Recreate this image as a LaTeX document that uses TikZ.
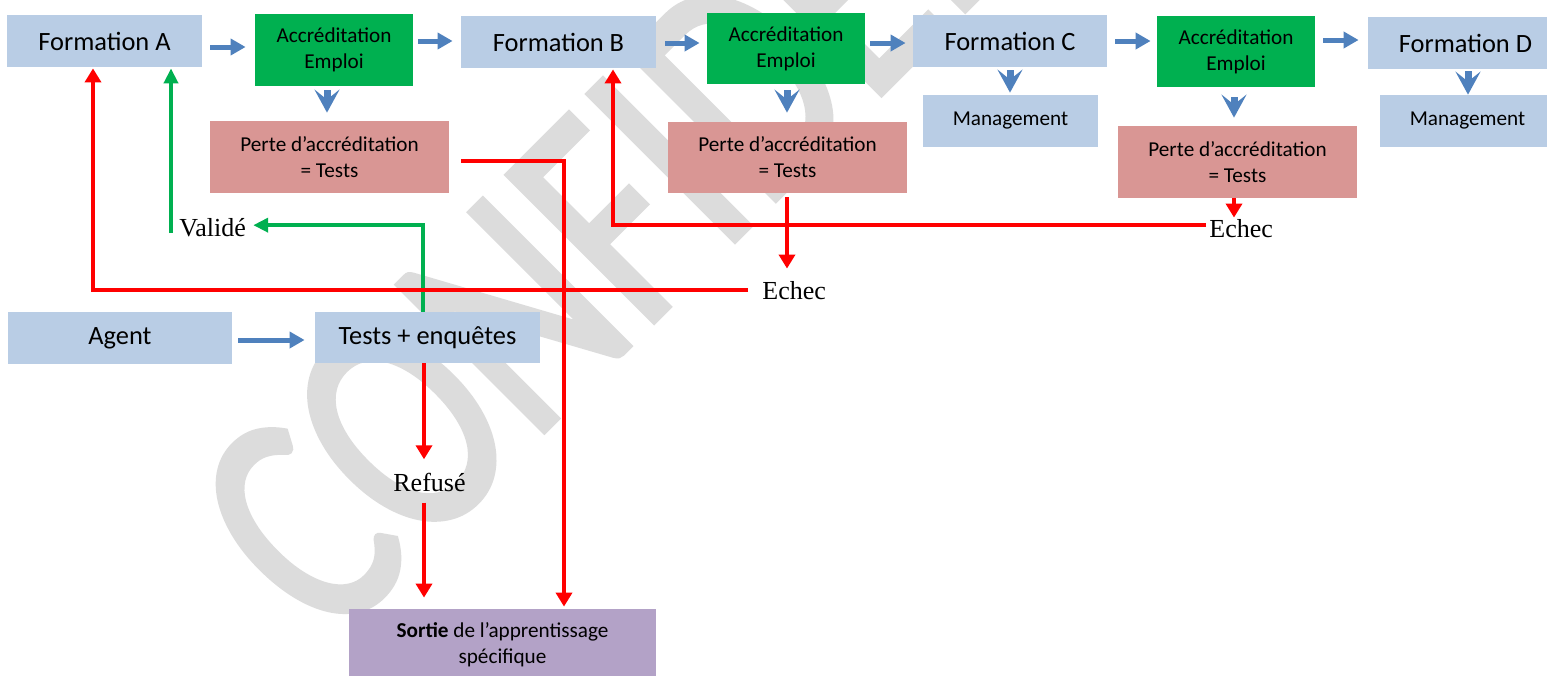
\documentclass[tikz,border=0pt]{standalone}
\usepackage{fontspec}
\setmainfont{Carlito}
\newfontfamily\tnr{Liberation Serif}
\newfontfamily\wmfont[FakeBold=2]{Carlito}
\usetikzlibrary{arrows.meta,calc}
\definecolor{lblue}{HTML}{B9CDE5}
\definecolor{accgreen}{HTML}{00B050}
\definecolor{pinkbox}{HTML}{D99694}
\definecolor{purpbox}{HTML}{B3A2C7}
\definecolor{arrblue}{HTML}{4F81BD}
\definecolor{wmgray}{HTML}{DCDCDC}
\definecolor{lred}{HTML}{FF0000}
\tikzset{
  box/.style={inner sep=0pt, align=center, text=black},
  bigbox/.style={box, fill=lblue, font=\fontsize{13.2}{16}\selectfont, minimum width=97.5pt, minimum height=26pt},
  accbox/.style={box, fill=accgreen, font=\fontsize{10.6}{13}\selectfont, minimum width=79pt, minimum height=36pt},
  pertebox/.style={box, fill=pinkbox, font=\fontsize{10.6}{13}\selectfont, minimum width=119.5pt, minimum height=36pt},
  mgmtbox/.style={box, fill=lblue, font=\fontsize{10.6}{13}\selectfont, minimum width=87.5pt, minimum height=26pt},
  sortiebox/.style={box, fill=purpbox, font=\fontsize{10.6}{13}\selectfont, minimum width=153.5pt, minimum height=36pt},
  lbl/.style={inner sep=0pt, font=\tnr\fontsize{13}{15}\selectfont, anchor=base west},
  barrow/.style={draw=arrblue, line width=2.5pt, -{Triangle[width=8pt,length=7.5pt]}},
  chev/.style={draw=arrblue, line width=3.5pt, -{Stealth[width=12.5pt,length=11.5pt,inset=5pt]}},
  rarrow/.style={draw=lred, line width=2.2pt, -{Triangle[width=8pt,length=7pt]}},
  garrow/.style={draw=accgreen, line width=2pt, -{Triangle[width=7pt,length=7.5pt]}},
  wmark/.style={inner sep=0pt, text=wmgray, font=\wmfont\fontsize{121}{121}\selectfont}
}
\begin{document}
\begin{tikzpicture}[x=0.5pt,y=-0.5pt]
\clip (0,0) rectangle (1547,675);
\fill[white] (0,0) rectangle (1547,675);
% watermark
\node[wmark, rotate=45, yscale=1.33, anchor=base west] (wm) at (328,647) {CONFIDENTIEL};
% boxes
\node[bigbox] (fa) at (104.5,41) {Formation A};
\node[accbox] (acc1) at (334,50) {Accréditation\\Emploi};
\node[bigbox] (fb) at (558.5,42) {Formation B};
\node[accbox, minimum height=35.5pt] (acc2) at (786,48.5) {Accréditation\\Emploi};
\node[bigbox, minimum width=97pt] (fc) at (1010,41) {Formation C};
\node[mgmtbox] (mc) at (1010.5,121) {Management};
\node[accbox, minimum height=35.5pt] (acc3) at (1236,51.5) {Accréditation\\Emploi};
\node[bigbox] (fd) at (1465.5,43) {Formation D};
\node[mgmtbox] (md) at (1467.5,121) {Management};
\node[pertebox] (p1) at (329.5,157) {Perte d’accréditation\\= Tests};
\node[pertebox, minimum height=35.5pt] (p2) at (787.5,157.5) {Perte d’accréditation\\= Tests};
\node[pertebox] (p3) at (1237.5,162) {Perte d’accréditation\\= Tests};
\node[bigbox, minimum width=112pt] (agent) at (120,338) {Agent};
\node[bigbox, minimum width=112.5pt, minimum height=25.5pt] (tests) at (427.5,337.5) {Tests + enquêtes};
\node[sortiebox] (sortie) at (502.5,645) {\textbf{Sortie} de l’apprentissage\\spécifique};
% labels
\node[lbl] (valide) at (179,236) {Validé};
\node[lbl] (echec1) at (1209,237) {Echec};
\node[lbl] (echec2) at (762,299) {Echec};
\node[lbl] (refuse) at (393,491) {Refusé};
% blue arrows
\draw[barrow] ($(fa.east)+(8,6)$) -- ($(acc1.west|-fa.east)+(-9,6)$);
\draw[barrow] ($(acc1.east|-fb.west)+(5,-1)$) -- ($(fb.west)+(-8,-1)$);
\draw[barrow] ($(fb.east)+(9,1)$) -- ($(acc2.west|-fb.east)+(-7,1)$);
\draw[barrow] ($(acc2.east|-fc.west)+(5,2)$) -- ($(fc.west)+(-7,2)$);
\draw[barrow] ($(fc.east)+(8,0)$) -- ($(acc3.west|-fc.east)+(-6,0)$);
\draw[barrow] ($(acc3.east|-fd.west)+(8,-3)$) -- ($(fd.west)+(-9,-3)$);
\draw[barrow] ($(agent.east)+(6,2)$) -- ($(tests.west|-agent.east)+(-10,2)$);
% blue chevrons
\draw[chev] ($(acc1.south)+(-7,4)$) -- ($(p1.north)+(-2.5,-8)$);
\draw[chev] ($(acc2.south)+(1,6)$) -- ($(p2.north)+(-0.5,-9)$);
\draw[chev] ($(fc.south)+(0,3)$) -- ($(mc.north)+(-0.5,-2)$);
\draw[chev] ($(acc3.south)+(-2,10)$) -- ($(p3.north)+(-3.5,-8)$);
\draw[chev] ($(fd.south)+(2.5,2)$) -- ($(md.north)+(0.5,0)$);
% green
\draw[garrow] ($(tests.north)+(-4.5,0)$) |- ($(valide.east)+(7,-2)$);
\draw[garrow] ($(valide.west)+(-8,6)$) -- ($(fa.south)+(66.5,1)$);
% red
\draw[rarrow] ($(echec2.west)+(-14,0)$) -| ($(fa.south)+(-11.5,1)$);
\draw[rarrow] ($(echec1.west)+(-3,-3)$) -| ($(fb.south)+(54.5,1)$);
\draw[rarrow] ($(p3.south)+(-3.5,0)$) -- ($(p3.south|-echec1.north)+(-3.5,-1)$);
\draw[rarrow] ($(p2.south)+(-0.5,4)$) -- ($(p2.south|-echec2.north)+(-0.5,-12)$);
\draw[rarrow] ($(p1.east)+(12,4)$) -| ($(sortie.north)+(61.5,-2)$);
\draw[rarrow] ($(tests.south)+(-3.5,0)$) -- ($(tests.south|-refuse.north)+(-3.5,-13)$);
\draw[rarrow] ($(tests.south|-refuse.south)+(-3.5,11)$) -- ($(tests.south|-sortie.north)+(-3.5,-11)$);
\end{tikzpicture}
\end{document}
